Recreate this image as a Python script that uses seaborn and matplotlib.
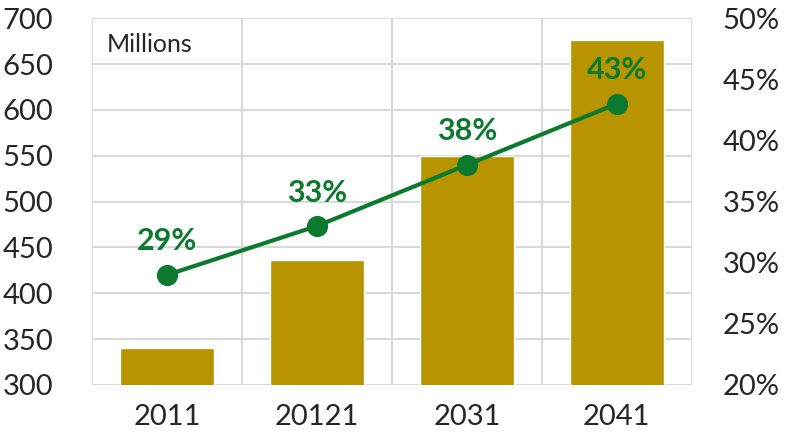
import matplotlib
matplotlib.use("Agg")
import matplotlib.pyplot as plt
import seaborn as sns
import pandas as pd
from matplotlib.ticker import FixedLocator, PercentFormatter

# Population (millions) and share by census year
years = ["2011", "20121", "2031", "2041"]
population = [340, 436, 550, 676]
share = [29, 33, 38, 43]

left_ticks = [300, 350, 400, 450, 500, 550, 600, 650, 700]
right_ticks = [20, 25, 30, 35, 40, 45, 50]

BAR = "#B79400"
GREEN = "#0B7A2E"
GRID = "#D9D9D9"
TEXT = "#262626"

sns.set_theme(style="white")
plt.rcParams["font.family"] = ["Lato", "DejaVu Sans"]

df = pd.DataFrame({"year": years, "population": population, "share": share})

fig = plt.figure(figsize=(7.87, 4.44), dpi=100)
ax = fig.add_axes([0.117, 0.133, 0.762, 0.826])

sns.barplot(data=df, x="year", y="population", color=BAR, width=0.63,
            saturation=1, ax=ax, zorder=2)
ax.set_ylim(300, 700)
ax.set_xlim(-0.5, len(years) - 0.5)
ax.set_yticks(left_ticks)
ax.set_xlabel("")
ax.set_ylabel("")

# Gridlines: horizontal at every 50, vertical between categories
ax.grid(axis="y", color=GRID, linewidth=1.5, zorder=0)
ax.xaxis.set_minor_locator(FixedLocator([i - 0.5 for i in range(len(years) + 1)]))
ax.grid(axis="x", which="minor", color=GRID, linewidth=1.5, zorder=0)
ax.grid(axis="x", which="major", visible=False)
ax.tick_params(axis="x", which="minor", length=8, width=1.5, color=GRID, direction="out")
ax.tick_params(axis="x", which="major", length=0, pad=14, labelsize=21, labelcolor=TEXT)
ax.tick_params(axis="y", length=0, pad=28, labelsize=21, labelcolor=TEXT)
ax.set_axisbelow(True)
for s in ax.spines.values():
    s.set_visible(False)

ax.text(0.025, 0.96, "Millions", transform=ax.transAxes, ha="left", va="top",
        fontsize=18, color=TEXT)

# Share on secondary axis
ax2 = ax.twinx()
sns.pointplot(data=df, x="year", y="share", color=GREEN, markers="o",
              markersize=13, linewidth=3, ax=ax2)
ax2.set_ylim(20, 50)
ax2.set_xlim(-0.5, len(years) - 0.5)
ax2.set_yticks(right_ticks)
ax2.yaxis.set_major_formatter(PercentFormatter(decimals=0))
ax2.set_ylabel("")
ax2.tick_params(axis="y", length=0, pad=22, labelsize=21, labelcolor=TEXT)
ax2.grid(False)
for s in ax2.spines.values():
    s.set_visible(False)

for i, v in enumerate(df["share"]):
    ax2.annotate(f"{v}%", (i, v), xytext=(0, 14), textcoords="offset points",
                 ha="center", va="bottom", fontsize=22, fontweight="bold",
                 color=GREEN)

fig.savefig("out.png", dpi=100)
